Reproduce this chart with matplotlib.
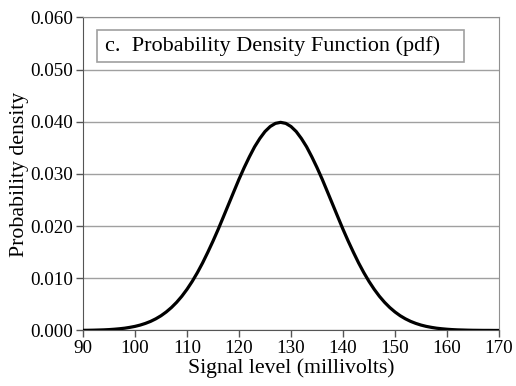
import matplotlib
matplotlib.use("Agg")
import matplotlib.pyplot as plt
from matplotlib.patches import Rectangle

# Data (signal level in mV, probability density)
signal_mv = list(range(90, 171))
density = [0.00003, 0.00004, 0.00006, 0.00009, 0.00012, 0.00017, 0.00024, 0.00033,
           0.00044, 0.00060, 0.00079, 0.00104, 0.00136, 0.00175, 0.00224, 0.00283,
           0.00355, 0.00440, 0.0054, 0.00656, 0.0079, 0.00941, 0.0111, 0.01296,
           0.0150, 0.01714, 0.0194, 0.02179, 0.0242, 0.02661, 0.0290, 0.03123,
           0.0333, 0.03521, 0.0368, 0.03814, 0.0391, 0.0397, 0.0399,
           0.0397, 0.0391, 0.03814, 0.0368, 0.03521, 0.0333, 0.03123, 0.0290,
           0.02661, 0.0242, 0.02179, 0.0194, 0.01714, 0.0150, 0.01296, 0.0111,
           0.00941, 0.0079, 0.00656, 0.0054, 0.00440, 0.00355, 0.00283, 0.00224,
           0.00175, 0.00136, 0.00104, 0.00079, 0.00060, 0.00044, 0.00033, 0.00024,
           0.00017, 0.00012, 0.00009, 0.00006, 0.00004, 0.00003, 0.00002, 0.00002,
           0.00001, 0.00001]
x_ticks = [90, 100, 110, 120, 130, 140, 150, 160, 170]
y_ticks = [0.000, 0.010, 0.020, 0.030, 0.040, 0.050, 0.060]
y_tick_labels = ["0.000", "0.010", "0.020", "0.030", "0.040", "0.050", "0.060"]
panel_title = "c.  Probability Density Function (pdf)"

plt.rcParams['font.family'] = ['Liberation Serif', 'DejaVu Serif']

fig = plt.figure(figsize=(5.16, 3.86), dpi=100)
ax = fig.add_axes([0.1609, 0.1438, 0.8061, 0.8109])

ax.plot(signal_mv, density, color='black', lw=2.3, solid_capstyle='round',
        solid_joinstyle='round', zorder=3)

ax.set_xlim(90, 170)
ax.set_ylim(0, 0.060)
ax.set_xticks(x_ticks)
ax.set_yticks(y_ticks)
ax.set_yticklabels(y_tick_labels)
ax.yaxis.grid(True, color='#a0a0a0', lw=1.0)
ax.set_axisbelow(True)
ax.tick_params(axis='both', direction='out', length=5, width=1, color='#555555',
               labelsize=13.8, pad=2)

for s in ['top', 'right']:
    ax.spines[s].set_color('#909090')
for s in ['left', 'bottom']:
    ax.spines[s].set_color('#555555')

ax.set_xlabel("Signal level (millivolts)", fontsize=15.7, labelpad=1)
ax.set_ylabel("Probability density", fontsize=15.7, labelpad=1)

rect = Rectangle((0.034, 0.858), 0.882, 0.102, transform=ax.transAxes,
                 facecolor='white', edgecolor='#a0a0a0', lw=1.2, zorder=4)
ax.add_patch(rect)
ax.text(0.053, 0.909, panel_title, transform=ax.transAxes, fontsize=16,
        va='center', ha='left', zorder=5)

fig.savefig("out.png", dpi=100)
